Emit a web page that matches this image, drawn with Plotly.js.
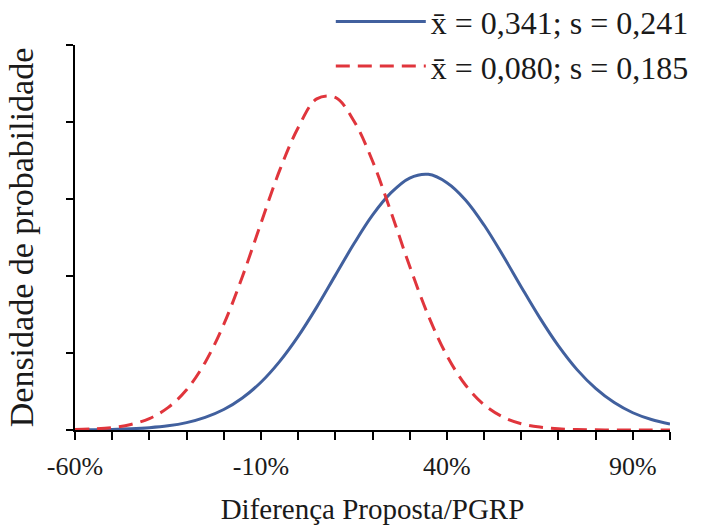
<!DOCTYPE html>
<html>
<head>
<meta charset="utf-8">
<script src="https://cdn.plot.ly/plotly-3.0.1.min.js"></script>
<style>html,body{margin:0;padding:0;background:#fff;}#chart{width:702px;height:532px;}</style>
</head>
<body>
<div id="chart"></div>
<script>
// x positions (fraction: -0.6 = -60%)
const xVals = [-0.60,-0.55,-0.50,-0.45,-0.40,-0.35,-0.30,-0.25,-0.20,-0.15,-0.10,-0.05,0.00,0.05,0.10,0.15,0.20,0.25,0.30,0.35,0.40,0.45,0.50,0.55,0.60,0.65,0.70,0.75,0.80,0.85,0.90,0.95,1.00];
// probability density
const blueDensity = [0.001,0.002,0.004,0.008,0.015,0.027,0.048,0.082,0.133,0.208,0.310,0.444,0.608,0.798,1.004,1.209,1.395,1.541,1.636,1.660,1.606,1.494,1.331,1.136,0.929,0.728,0.546,0.392,0.270,0.178,0.112,0.068,0.039];
const redDensity = [0.003,0.007,0.016,0.036,0.074,0.145,0.261,0.439,0.686,0.995,1.343,1.684,1.963,2.150,2.160,2.007,1.747,1.414,1.063,0.743,0.483,0.292,0.164,0.085,0.041,0.019,0.008,0.003,0.001,0.000,0.000,0.000,0.000];
const seriesNames = ["x\u0304 = 0,341; s = 0,241", "x\u0304 = 0,080; s = 0,185"];
const tickVals = [-0.6,-0.1,0.4,0.9];
const tickText = ["-60%","-10%","40%","90%"];

const font = "Liberation Serif, Times New Roman, serif";
const traces = [
  {x: xVals, y: blueDensity, type: "scatter", mode: "lines", name: seriesNames[0],
   line: {color: "#41609e", width: 3, shape: "spline", smoothing: 1}},
  {x: xVals, y: redDensity, type: "scatter", mode: "lines", name: seriesNames[1],
   line: {color: "#e0353c", width: 3, dash: "14px,8px", shape: "spline", smoothing: 1}}
];
const layout = {
  width: 702, height: 532,
  margin: {l: 75, r: 32, t: 45, b: 102, autoexpand: false},
  paper_bgcolor: "#fff", plot_bgcolor: "#fff",
  font: {family: font, color: "#1a1a1a", size: 20},
  showlegend: true,
  legend: {x: 1.04, xanchor: "right", y: 1.132, yanchor: "top", bgcolor: "rgba(0,0,0,0)",
           font: {family: font, size: 32, color: "#1a1a1a"}, itemwidth: 90, tracegroupgap: 0},
  xaxis: {range: [-0.6, 1.0], showgrid: false, zeroline: false, showline: true, linecolor: "#000", linewidth: 2,
          ticks: "outside", ticklen: 8, tickwidth: 2, tickcolor: "#000", automargin: false,
          tickmode: "array", tickvals: tickVals, ticktext: tickText, ticklabelstandoff: 4,
          minor: {tickmode: "linear", tick0: -0.6, dtick: 0.1, ticks: "outside", ticklen: 8, tickwidth: 2, tickcolor: "#000", showgrid: false},
          tickfont: {family: font, size: 26, color: "#1a1a1a"},
          title: {text: "Diferença Proposta/PGRP", font: {family: font, size: 29, color: "#1a1a1a"}, standoff: 18}},
  yaxis: {range: [0, 2.5], showgrid: false, zeroline: false, showline: true, linecolor: "#000", linewidth: 2,
          ticks: "outside", ticklen: 7, tickwidth: 2, tickcolor: "#000", dtick: 0.5, tick0: 0, automargin: false,
          showticklabels: false,
          title: {text: "Densidade de probabilidade", font: {family: font, size: 34, color: "#1a1a1a"}, standoff: 22}}
};
Plotly.newPlot("chart", traces, layout, {displayModeBar: false, staticPlot: true});
</script>
</body>
</html>
